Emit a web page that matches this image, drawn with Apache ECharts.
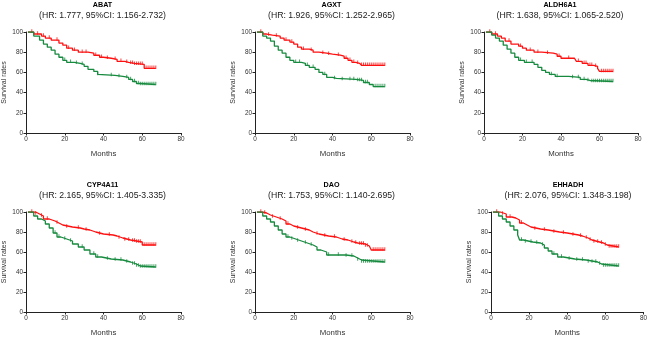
<!DOCTYPE html>
<html>
<head>
<meta charset="utf-8">
<script src="https://cdn.jsdelivr.net/npm/echarts@6/dist/echarts.min.js"></script>
<style>
html,body{margin:0;padding:0;background:#fff;}
#kmChart{width:650px;height:338px;}
</style>
</head>
<body>
<div id="kmChart"></div>
<script>
// panel names and hazard ratio lines
var genes = ['ABAT', 'AGXT', 'ALDH6A1', 'CYP4A11', 'DAO', 'EHHADH'];
var hrLabels = [
  '(HR: 1.777, 95%CI: 1.156-2.732)',
  '(HR: 1.926, 95%CI: 1.252-2.965)',
  '(HR: 1.638, 95%CI: 1.065-2.520)',
  '(HR: 2.165, 95%CI: 1.405-3.335)',
  '(HR: 1.753, 95%CI: 1.140-2.695)',
  '(HR: 2.076, 95%CI: 1.348-3.198)'
];
var xTicks = [0, 20, 40, 60, 80];
var yTicks = [0, 20, 40, 60, 80, 100];

// step points [month, survival %] -- red = high group, green = low group
var abatHigh = [[1,100],[4,98],[8,96],[10,94],[13,92],[17,89],[19,87],[21,84],[24,82],[27,80],[32,79],[35,77],[38,75],[40,74],[44,73],[47,71],[51,70],[53,69],[56,68],[61,64],[67,64]];
var abatLow = [[1,100],[4,96],[7,92],[9,88],[11,85],[13,82],[15,78],[17,75],[19,72],[21,70],[25,69],[28,68],[30,66],[32,63],[35,61],[37,58],[38,57],[46,56],[50,55],[53,53],[55,51],[57,49],[59,48],[67,48]];
var agxtHigh = [[1,100],[4,98],[6,97],[9,96],[13,94],[15,92],[18,90],[20,88],[22,85],[24,83],[28,82],[30,80],[33,79],[37,78],[40,77],[44,76],[46,74],[48,72],[50,70],[52,69],[54,68],[55,67],[67,67]];
var agxtLow = [[1,100],[4,96],[6,94],[8,91],[10,86],[12,82],[14,79],[16,75],[18,72],[20,70],[24,69],[26,67],[28,65],[31,63],[33,60],[35,58],[37,55],[40,54],[42,53],[52,52],[56,50],[59,48],[61,46],[67,46]];
var aldhHigh = [[1,100],[4,98],[7,96],[9,94],[11,91],[14,88],[18,86],[20,84],[22,82],[26,80],[30,79],[36,78],[38,76],[40,74],[47,73],[48,71],[51,69],[54,67],[57,66],[59,64],[60,61],[67,61]];
var aldhLow = [[1,100],[4,97],[6,94],[8,91],[10,87],[12,83],[14,79],[16,75],[18,72],[21,70],[26,68],[28,65],[30,62],[32,60],[34,58],[37,56],[44,55],[50,53],[53,52],[55,51],[67,51]];
var cypHigh = [[1,100],[5,98],[7,96],[9,93],[12,91],[15,89],[17,87],[19,85],[24,84],[28,83],[30,82],[33,80],[36,78],[40,77],[45,76],[47,74],[50,72],[54,71],[57,70],[60,67],[67,67]];
var cypLow = [[1,100],[4,96],[6,93],[8,91],[10,88],[12,84],[14,79],[16,75],[18,73],[21,71],[24,68],[27,65],[30,62],[33,58],[36,55],[39,53],[44,52],[50,50],[54,48],[57,46],[59,45],[67,45]];
var daoHigh = [[1,100],[4,99],[6,97],[8,95],[11,93],[14,91],[16,88],[18,86],[20,84],[24,82],[28,80],[30,78],[33,76],[38,75],[42,73],[45,72],[48,70],[51,69],[53,68],[57,66],[59,64],[60,62],[67,62]];
var daoLow = [[1,100],[4,96],[6,93],[8,90],[10,86],[12,82],[14,78],[16,75],[18,73],[21,71],[24,69],[27,67],[30,65],[32,62],[34,60],[37,57],[47,56],[51,54],[53,52],[55,50],[67,50]];
var ehHigh = [[1,100],[5,98],[8,95],[11,94],[13,92],[15,89],[17,87],[19,85],[21,83],[26,82],[30,80],[36,79],[40,77],[46,76],[48,74],[51,72],[53,70],[57,69],[59,67],[61,65],[67,65]];
var ehLow = [[1,100],[4,96],[6,93],[8,90],[10,86],[12,82],[14,77],[15,72],[17,70],[22,69],[26,67],[28,64],[30,61],[32,58],[35,55],[38,53],[44,52],[50,50],[56,48],[58,46],[67,46]];

// censored months
var abatHighC = [3,6,9,12,16,22,25,29,31,36,39,42,46,49,52,54,55,56,57,58,59,60,62,63,64,65,66,67];
var abatLowC = [20,23,26,29,37,44,48,52,54,56,58,59,60,61,62,63,64,65,66,67];
var agxtHighC = [3,7,11,16,19,25,29,35,38,43,47,49,51,53,55,56,57,58,59,60,61,62,63,64,65,66,67];
var agxtLowC = [21,23,27,30,36,41,45,49,51,53,54,55,57,58,62,63,64,65,66,67];
var aldhHighC = [3,6,13,19,24,28,33,39,44,49,52,53,55,56,58,61,62,63,64,65,66,67];
var aldhLowC = [19,22,25,35,38,46,49,52,54,56,57,58,59,60,61,62,63,64,65,66,67];
var cypHighC = [3,5,8,11,16,21,27,31,38,43,48,51,53,55,56,57,58,59,61,62,63,64,65,66,67];
var cypLowC = [15,17,20,23,29,35,37,42,46,49,52,55,56,57,58,59,60,61,62,63,64,65,66,67];
var daoHighC = [3,5,9,13,17,22,26,32,36,41,46,50,52,54,55,56,57,58,61,62,63,64,65,66,67];
var daoLowC = [17,19,22,26,29,38,43,47,50,53,55,56,57,58,59,60,61,62,63,64,65,66,67];
var ehHighC = [3,6,10,16,23,28,33,38,43,47,50,52,54,56,58,60,62,63,64,65,66,67];
var ehLowC = [16,18,21,24,27,33,37,41,45,48,51,53,55,57,59,60,61,62,63,64,65,66,67];

var highCurves = [abatHigh, agxtHigh, aldhHigh, cypHigh, daoHigh, ehHigh];
var lowCurves = [abatLow, agxtLow, aldhLow, cypLow, daoLow, ehLow];
var highCensor = [abatHighC, agxtHighC, aldhHighC, cypHighC, daoHighC, ehHighC];
var lowCensor = [abatLowC, agxtLowC, aldhLowC, cypLowC, daoLowC, ehLowC];

// layout of the six panels (px)
var panels = [
  {left: 26, top: 32, width: 155, height: 101, titleTop: 1},
  {left: 255, top: 32, width: 155, height: 101, titleTop: 1},
  {left: 484, top: 32, width: 154, height: 101, titleTop: 1},
  {left: 26, top: 212, width: 155, height: 103, titleTop: 181},
  {left: 255, top: 212, width: 155, height: 103, titleTop: 181},
  {left: 491, top: 212, width: 156, height: 103, titleTop: 181}
];

var RED = '#ff1010';
var GREEN = '#168a3e';
var FONT = 'Liberation Sans, Arial, sans-serif';

// survival level of a step curve at a given month
function levelAt(curve, m) {
  var v = curve[0][1];
  for (var i = 0; i < curve.length; i++) {
    if (curve[i][0] <= m) v = curve[i][1];
  }
  return v;
}
function censorPoints(curve, months) {
  return months.map(function (m) { return [m, levelAt(curve, m)]; });
}

var titles = [], grids = [], xAxes = [], yAxes = [], seriesList = [];
for (var i = 0; i < genes.length; i++) {
  var p = panels[i];
  titles.push({
    text: genes[i],
    subtext: hrLabels[i],
    left: p.left + p.width / 2 - 1,
    top: p.titleTop,
    textAlign: 'center',
    itemGap: 2,
    padding: 0,
    textStyle: {fontFamily: FONT, fontSize: 7.2, fontWeight: 'bold', color: '#000', lineHeight: 8},
    subtextStyle: {fontFamily: FONT, fontSize: 8.7, color: '#222', lineHeight: 10}
  });
  grids.push({left: p.left, top: p.top, width: p.width, height: p.height});
  xAxes.push({
    gridIndex: i,
    type: 'value',
    min: xTicks[0],
    max: xTicks[xTicks.length - 1],
    interval: 20,
    name: 'Months',
    nameLocation: 'middle',
    nameGap: 17,
    nameTextStyle: {fontFamily: FONT, fontSize: 7.8, color: '#333'},
    axisLine: {show: true, lineStyle: {color: '#222', width: 1}},
    axisTick: {show: true, length: 2.5, lineStyle: {color: '#222'}},
    axisLabel: {fontFamily: FONT, fontSize: 6.4, color: '#333', margin: 3},
    splitLine: {show: false}
  });
  yAxes.push({
    gridIndex: i,
    type: 'value',
    min: yTicks[0],
    max: yTicks[yTicks.length - 1],
    interval: 20,
    name: 'Survival rates',
    nameLocation: 'middle',
    nameGap: 18,
    nameTextStyle: {fontFamily: FONT, fontSize: 7, color: '#333'},
    axisLine: {show: true, lineStyle: {color: '#222', width: 1}},
    axisTick: {show: true, length: 2.5, lineStyle: {color: '#222'}},
    axisLabel: {fontFamily: FONT, fontSize: 6.4, color: '#333', margin: 3},
    splitLine: {show: false}
  });
  var groups = [
    {curve: highCurves[i], cens: highCensor[i], color: RED},
    {curve: lowCurves[i], cens: lowCensor[i], color: GREEN}
  ];
  groups.forEach(function (g) {
    seriesList.push({
      type: 'line',
      xAxisIndex: i,
      yAxisIndex: i,
      step: 'end',
      showSymbol: false,
      animation: false,
      lineStyle: {color: g.color, width: 1.3},
      data: g.curve
    });
    seriesList.push({
      type: 'scatter',
      xAxisIndex: i,
      yAxisIndex: i,
      symbol: 'rect',
      symbolSize: [1, 3.5],
      symbolOffset: [0, -1],
      animation: false,
      itemStyle: {color: g.color},
      data: censorPoints(g.curve, g.cens)
    });
  });
}

var chart = echarts.init(document.getElementById('kmChart'));
chart.setOption({
  backgroundColor: '#fff',
  animation: false,
  title: titles,
  grid: grids,
  xAxis: xAxes,
  yAxis: yAxes,
  series: seriesList
});
</script>
</body>
</html>
